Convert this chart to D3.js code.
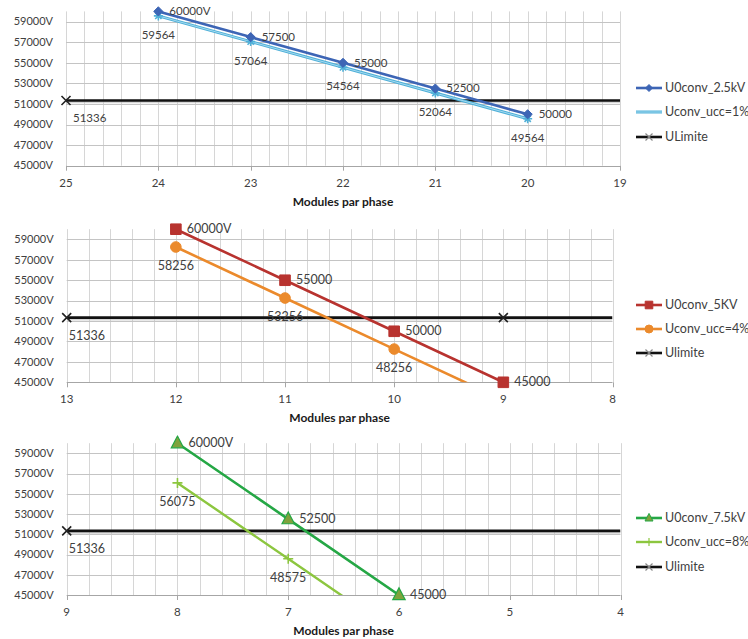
<!DOCTYPE html>
<html><head><meta charset="utf-8">
<script src="https://cdn.jsdelivr.net/npm/d3@7"></script>
<style>body{margin:0;background:#fff}svg{display:block}text{font-family:Lato,"Liberation Sans",sans-serif}</style>
</head><body><svg id="c" width="748" height="639"></svg>
<script>
// ---- data ----
const uLimite = 51336;
const uLimiteLabel = "51336";
const yTicks = [45000,47000,49000,51000,53000,55000,57000,59000];
const yDomain = [45000, 60000];
const xTitle = "Modules par phase";

const c1Ticks = [25,24,23,22,21,20,19];
const c1X = [24,23,22,21,20];
const c1U0 = [60000,57500,55000,52500,50000];
const c1U0Labels = ["60000V","57500","55000","52500","50000"];
const c1Ucc = [59564,57064,54564,52064,49564];
const c1UccLabels = ["59564","57064","54564","52064","49564"];
const c1LimMarks = [25];
const c1Names = ["U0conv_2.5kV","Uconv_ucc=1%","ULimite"];

const c2Ticks = [13,12,11,10,9,8];
const c2X = [12,11,10,9];
const c2U0 = [60000,55000,50000,45000];
const c2U0Labels = ["60000V","55000","50000","45000"];
const c2Ucc = [58256,53256,48256,43256];
const c2UccLabels = ["58256","53256","48256",null];
const c2LimMarks = [13,9];
const c2Names = ["U0conv_5KV","Uconv_ucc=4%","Ulimite"];

const c3Ticks = [9,8,7,6,5,4];
const c3X = [8,7,6];
const c3U0 = [60000,52500,45000];
const c3U0Labels = ["60000V","52500","45000"];
const c3Ucc = [56075,48575,41075];
const c3UccLabels = ["56075","48575",null];
const c3LimMarks = [9];
const c3Names = ["U0conv_7.5kV","Uconv_ucc=8%","Ulimite"];

// ---- drawing ----
const svg = d3.select("#c");
svg.append("rect").attr("width",748).attr("height",639).attr("fill","#fff");

function markerPath(type, s){
  switch(type){
    case "diamond": return `M0,${-s}L${s},0L0,${s}L${-s},0Z`;
    case "square": return `M${-s},${-s}H${s}V${s}H${-s}Z`;
    case "circle": return `M${s},0A${s},${s} 0 1,1 ${-s},0A${s},${s} 0 1,1 ${s},0Z`;
    case "triangle": return `M0,${-s*1.15}L${s},${s*0.75}L${-s},${s*0.75}Z`;
    case "plus": return `M${-s},0H${s}M0,${-s}V${s}`;
    case "x": return `M${-s},${-s}L${s},${s}M${-s},${s}L${s},${-s}`;
    case "star": return `M${-s},0H${s}M0,${-s}V${s}M${-s*0.7},${-s*0.7}L${s*0.7},${s*0.7}M${-s*0.7},${s*0.7}L${s*0.7},${-s*0.7}`;
  }
}
function drawMarker(g, type, x, y, st){
  if(!st) return;
  const stroked = (type==="plus"||type==="x"||type==="star");
  g.append("path").attr("transform",`translate(${x},${y})`)
    .attr("d", markerPath(type, st.size))
    .attr("fill", stroked ? "none" : st.fill)
    .attr("stroke", st.stroke)
    .attr("stroke-width", st.sw);
}

let clipId = 0;
function drawChart(cfg){
  const x = d3.scaleLinear().domain([cfg.ticks[0], cfg.ticks[cfg.ticks.length-1]]).range([cfg.left, cfg.right]);
  const y = d3.scaleLinear().domain(yDomain).range([cfg.bottom, cfg.top]);
  const g = svg.append("g");
  const lo = cfg.ticks[cfg.ticks.length-1], hi = cfg.ticks[0];
  const minor = d3.range(0, Math.round((hi-lo)*5)+1).map(i => lo + i*0.2);
  g.selectAll(".vg").data(minor).join("line")
    .attr("x1", d=>Math.round(x(d))+0.5).attr("x2", d=>Math.round(x(d))+0.5)
    .attr("y1", cfg.top).attr("y2", cfg.bottom)
    .attr("stroke", "#d6d6d6").attr("stroke-width", 1);
  g.selectAll(".hg").data(yTicks).join("line")
    .attr("x1", cfg.left).attr("x2", cfg.right)
    .attr("y1", d=>Math.round(y(d))+0.5).attr("y2", d=>Math.round(y(d))+0.5)
    .attr("stroke", d => d===yDomain[0] ? "#a6a6a6" : "#c4c4c4").attr("stroke-width", 1);
  g.selectAll(".xt").data(cfg.ticks).join("line")
    .attr("x1", d=>Math.round(x(d))+0.5).attr("x2", d=>Math.round(x(d))+0.5)
    .attr("y1", cfg.bottom).attr("y2", cfg.bottom+5)
    .attr("stroke", "#a6a6a6");
  g.selectAll(".xl").data(cfg.ticks).join("text")
    .attr("x", d=>x(d)).attr("y", cfg.bottom+18)
    .attr("text-anchor","middle").attr("dominant-baseline","middle")
    .attr("font-size", 11.5).attr("fill","#404040").text(d=>d);
  g.selectAll(".yl").data(yTicks).join("text")
    .attr("x", cfg.left-13).attr("y", d=>y(d)+1)
    .attr("text-anchor","end").attr("dominant-baseline","middle")
    .attr("font-size", 11).attr("fill","#404040").text(d=>d+"V");
  g.append("text").attr("x",(cfg.left+cfg.right)/2).attr("y",cfg.bottom+37)
    .attr("text-anchor","middle").attr("dominant-baseline","middle")
    .attr("font-size",12).attr("font-weight","bold").attr("fill","#1a1a1a").text(xTitle);

  const id = "clip"+(clipId++);
  svg.append("clipPath").attr("id",id).append("rect")
    .attr("x",cfg.left-8).attr("y",cfg.top-8).attr("width",cfg.right-cfg.left+16).attr("height",cfg.bottom-cfg.top+16);
  const clipLine = "clipL"+id;
  svg.append("clipPath").attr("id",clipLine).append("rect")
    .attr("x",cfg.left).attr("y",cfg.top-8).attr("width",cfg.right-cfg.left).attr("height",cfg.bottom-cfg.top+8);
  const pg = g.append("g").attr("clip-path",`url(#${clipLine})`);
  const line = d3.line().x(d=>x(d[0])).y(d=>y(d[1]));

  pg.append("line").attr("x1",cfg.left).attr("x2",cfg.right)
    .attr("y1",y(uLimite)+1.5).attr("y2",y(uLimite)+1.5).attr("stroke","#bbb").attr("stroke-width",2.5).attr("opacity",0.6);
  pg.append("line").attr("x1",cfg.left).attr("x2",cfg.right)
    .attr("y1",y(uLimite)).attr("y2",y(uLimite)).attr("stroke","#111").attr("stroke-width",2.6);

  const uccData = cfg.xs.map((d,i)=>[d,cfg.ucc[i]]);
  const u0Data = cfg.xs.map((d,i)=>[d,cfg.u0[i]]);
  pg.append("path").datum(uccData).attr("d",line).attr("fill","none")
    .attr("stroke",cfg.uccStyle.color).attr("stroke-width",cfg.uccStyle.lw).attr("stroke-linejoin","round");
  if(cfg.uccStyle.inner) pg.append("path").datum(uccData).attr("d",line).attr("fill","none")
    .attr("stroke",cfg.uccStyle.inner).attr("stroke-width",1);
  pg.append("path").datum(u0Data).attr("d",line).attr("fill","none")
    .attr("stroke",cfg.u0Style.color).attr("stroke-width",cfg.u0Style.lw).attr("stroke-linejoin","round");

  const mg = g.append("g").attr("clip-path",`url(#${id})`);
  uccData.forEach(d=>{ if(d[1]>=yDomain[0]) drawMarker(mg, cfg.uccStyle.marker, x(d[0]), y(d[1]), cfg.uccStyle.m); });
  u0Data.forEach(d=>{ if(d[1]>=yDomain[0]) drawMarker(mg, cfg.u0Style.marker, x(d[0]), y(d[1]), cfg.u0Style.m); });
  cfg.limMarks.forEach(v=>drawMarker(mg, "x", x(v), y(uLimite), {size:4.5, stroke:"#222", sw:1.6}));

  const fs = cfg.labelSize;
  u0Data.forEach((d,i)=>{ if(cfg.u0Labels[i]) g.append("text").attr("x",x(d[0])+11).attr("y",y(d[1])+1)
    .attr("dominant-baseline","middle").attr("font-size",fs).attr("fill","#404040").text(cfg.u0Labels[i]); });
  uccData.forEach((d,i)=>{ if(cfg.uccLabels[i]) g.append("text").attr("x",x(d[0])).attr("y",y(d[1])+20)
    .attr("text-anchor","middle").attr("dominant-baseline","middle").attr("font-size",fs).attr("fill","#404040").text(cfg.uccLabels[i]); });
  g.append("text").attr("x",x(hi)+cfg.limLabelDx).attr("y",y(uLimite)+19)
    .attr("dominant-baseline","middle").attr("font-size",fs).attr("fill","#404040").text(uLimiteLabel);

  const styles = [
    {color:cfg.u0Style.color, lw:cfg.u0Style.lw, marker:cfg.u0Style.marker, m:cfg.u0Style.legendM},
    {color:cfg.uccStyle.color, lw:cfg.uccStyle.lw, marker:cfg.uccStyle.marker, m:cfg.uccStyle.legendM, inner:cfg.uccStyle.inner},
    {color:"#111", lw:2.6, marker:"x", m:{size:3.5, stroke:"#888", sw:1.2}}
  ];
  cfg.names.forEach((n,i)=>{
    const ly = cfg.legendY[i], st = styles[i];
    g.append("line").attr("x1",636).attr("x2",662).attr("y1",ly).attr("y2",ly).attr("stroke",st.color).attr("stroke-width",st.lw);
    if(st.inner) g.append("line").attr("x1",636).attr("x2",662).attr("y1",ly).attr("y2",ly).attr("stroke",st.inner).attr("stroke-width",1);
    drawMarker(g, st.marker, 649, ly, st.m);
    g.append("text").attr("x",665).attr("y",ly+1).attr("dominant-baseline","middle")
      .attr("font-size",12.5).attr("fill","#404040").text(n);
  });
}

drawChart({
  ticks:c1Ticks, xs:c1X, u0:c1U0, ucc:c1Ucc, u0Labels:c1U0Labels, uccLabels:c1UccLabels, limMarks:c1LimMarks, names:c1Names,
  left:66, right:620, top:11.4, bottom:165.7, legendY:[88,112,137], labelSize:11.5, limLabelDx:7,
  u0Style:{color:"#3d65b5", lw:2.6, marker:"diamond", m:{size:4.6, fill:"#3d65b5", stroke:"#3d65b5", sw:1}, legendM:{size:3.5, fill:"#3d65b5", stroke:"#3d65b5", sw:1}},
  uccStyle:{color:"#4fb0d8", lw:3, inner:"#a5daf0", marker:"star", m:{size:4.5, stroke:"#4fb0d8", sw:1.6}, legendM:null}
});
drawChart({
  ticks:c2Ticks, xs:c2X, u0:c2U0, ucc:c2Ucc, u0Labels:c2U0Labels, uccLabels:c2UccLabels, limMarks:c2LimMarks, names:c2Names,
  left:66.7, right:612.5, top:229.2, bottom:382.3, legendY:[305,329,353], labelSize:12.5, limLabelDx:2,
  u0Style:{color:"#b8332f", lw:2.6, marker:"square", m:{size:5.3, fill:"#b8332f", stroke:"#b8332f", sw:1}, legendM:{size:3.8, fill:"#b8332f", stroke:"#b8332f", sw:1}},
  uccStyle:{color:"#eb8a2c", lw:2.6, marker:"circle", m:{size:5.3, fill:"#eb8a2c", stroke:"#eb8a2c", sw:1}, legendM:{size:4, fill:"#eb8a2c", stroke:"#eb8a2c", sw:1}}
});
drawChart({
  ticks:c3Ticks, xs:c3X, u0:c3U0, ucc:c3Ucc, u0Labels:c3U0Labels, uccLabels:c3UccLabels, limMarks:c3LimMarks, names:c3Names,
  left:66.7, right:620.5, top:443.2, bottom:595, legendY:[518,542,567], labelSize:12.5, limLabelDx:2,
  u0Style:{color:"#25a745", lw:2.6, marker:"triangle", m:{size:6.2, fill:"#7fa23c", stroke:"#25a745", sw:1.2}, legendM:{size:4, fill:"#7fa23c", stroke:"#25a745", sw:1}},
  uccStyle:{color:"#8cc63f", lw:2.4, marker:"plus", m:{size:5, stroke:"#8cc63f", sw:1.6}, legendM:{size:4, stroke:"#8cc63f", sw:1.2}}
});
</script></body></html>
